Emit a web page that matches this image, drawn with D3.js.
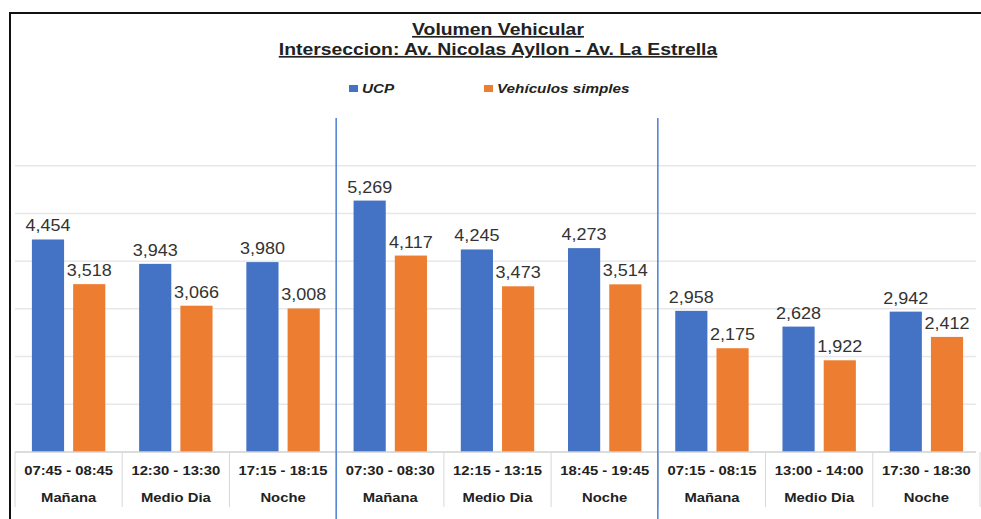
<!DOCTYPE html>
<html>
<head>
<meta charset="utf-8">
<script src="https://cdn.jsdelivr.net/npm/d3@7"></script>
<style>
  body { margin: 0; background: #fff; }
  svg { display: block; font-family: "Liberation Sans", Arial, sans-serif; }
</style>
</head>
<body>
<div class="chart"></div>
<script>
//data
const times = ["07:45 - 08:45", "12:30 - 13:30", "17:15 - 18:15",
  "07:30 - 08:30", "12:15 - 13:15", "18:45 - 19:45",
  "07:15 - 08:15", "13:00 - 14:00", "17:30 - 18:30"];
const periods = ["Mañana", "Medio Dia", "Noche",
  "Mañana", "Medio Dia", "Noche",
  "Mañana", "Medio Dia", "Noche"];
const seriesNames = ["UCP", "Vehículos simples"];
const ucp = [4454, 3943, 3980, 5269, 4245, 4273, 2958, 2628, 2942];
const simples = [3518, 3066, 3008, 4117, 3473, 3514, 2175, 1922, 2412];
const yTicks = [1000, 2000, 3000, 4000, 5000, 6000];
const groupBreaks = [3, 6]; // index of category after which a blue separator sits

const width = 981, height = 519;
const margin = { top: 118, right: 1, bottom: 66, left: 15 };
const colors = ["#4472c4", "#ed7d31"];

// the source image is a bit stretched horizontally
const stretch = (x, y, sx) => `translate(${x},${y}) scale(${sx},1)`;

const svg = d3.select(".chart").append("svg")
  .attr("width", width)
  .attr("height", height);

//frame
svg.append("path")
  .attr("d", `M10,${height} V13 H${width}`)
  .attr("fill", "none")
  .attr("stroke", "#111")
  .attr("stroke-width", 2);

//title
const title = svg.append("g")
  .attr("text-anchor", "middle")
  .attr("font-weight", "bold")
  .attr("font-size", 17)
  .attr("fill", "#222")
  .attr("text-decoration", "underline");
title.append("text").attr("transform", stretch(498, 35, 1.14)).text("Volumen Vehicular");
title.append("text").attr("transform", stretch(498, 55, 1.14)).text("Interseccion: Av. Nicolas Ayllon - Av. La Estrella");

//legend
const legendX = [349, 484];
const legend = svg.append("g")
  .selectAll("g")
  .data(seriesNames)
  .join("g")
  .attr("transform", (d, i) => `translate(${legendX[i]},89)`);
legend.append("rect")
  .attr("x", 0).attr("y", -4)
  .attr("width", 9).attr("height", 7)
  .attr("fill", (d, i) => colors[i]);
legend.append("text")
  .attr("transform", stretch(13, 4, 1.22))
  .attr("font-size", 12.5)
  .attr("font-weight", "bold")
  .attr("font-style", "italic")
  .attr("fill", "#222")
  .text(d => d);

//scales
const x0 = d3.scaleBand()
  .domain(d3.range(times.length))
  .range([margin.left, width - margin.right]);

const x1 = d3.scaleBand()
  .domain([0, 1])
  .range([0, x0.bandwidth()])
  .paddingInner(0.22)
  .paddingOuter(0.41);

const y = d3.scaleLinear()
  .domain([0, 7000])
  .range([height - margin.bottom - 1, margin.top]);

//grid
svg.append("g")
  .selectAll("line")
  .data(yTicks)
  .join("line")
  .attr("x1", margin.left)
  .attr("x2", width - 5)
  .attr("y1", d => y(d))
  .attr("y2", d => y(d))
  .attr("stroke", "#e8e8e8")
  .attr("stroke-width", 1.5);

//bars
const groups = svg.append("g")
  .selectAll("g")
  .data(d3.range(times.length))
  .join("g")
  .attr("transform", i => `translate(${x0(i)},0)`);

const barData = i => [ucp[i], simples[i]].map((v, s) => ({ v, s }));

groups.selectAll("rect")
  .data(barData)
  .join("rect")
  .attr("x", d => x1(d.s))
  .attr("width", x1.bandwidth())
  .attr("y", d => y(d.v))
  .attr("height", d => y(0) - y(d.v))
  .attr("fill", d => colors[d.s]);

groups.selectAll("text")
  .data(barData)
  .join("text")
  .attr("transform", d => stretch(x1(d.s) + x1.bandwidth() / 2, y(d.v) - 8, 1.06))
  .attr("text-anchor", "middle")
  .attr("font-size", 17)
  .attr("fill", "#333")
  .text(d => d3.format(",")(d.v));

//x axis table
const base = y(0);
svg.append("line")
  .attr("x1", margin.left).attr("x2", width - 5)
  .attr("y1", base).attr("y2", base)
  .attr("stroke", "#d0d0d0").attr("stroke-width", 1.5);

svg.append("g")
  .selectAll("line")
  .data(d3.range(times.length + 1))
  .join("line")
  .attr("x1", i => margin.left + i * x0.step())
  .attr("x2", i => margin.left + i * x0.step())
  .attr("y1", base)
  .attr("y2", base + 55)
  .attr("stroke", "#d8d8d8")
  .attr("stroke-width", 1);

const labels = svg.append("g")
  .attr("text-anchor", "middle")
  .attr("font-weight", "bold")
  .attr("font-size", 13)
  .attr("fill", "#222");
labels.selectAll("text.time")
  .data(times)
  .join("text")
  .attr("class", "time")
  .attr("transform", (d, i) => stretch(x0(i) + x0.bandwidth() / 2, base + 23, 1.14))
  .text(d => d);
labels.selectAll("text.period")
  .data(periods)
  .join("text")
  .attr("class", "period")
  .attr("transform", (d, i) => stretch(x0(i) + x0.bandwidth() / 2, base + 50, 1.14))
  .text(d => d);

//group separators
svg.append("g")
  .selectAll("line")
  .data(groupBreaks)
  .join("line")
  .attr("x1", i => x0(i) - 0.5)
  .attr("x2", i => x0(i) - 0.5)
  .attr("y1", margin.top)
  .attr("y2", height)
  .attr("stroke", "#4a7fd4")
  .attr("stroke-width", 1.5);
</script>
</body>
</html>
